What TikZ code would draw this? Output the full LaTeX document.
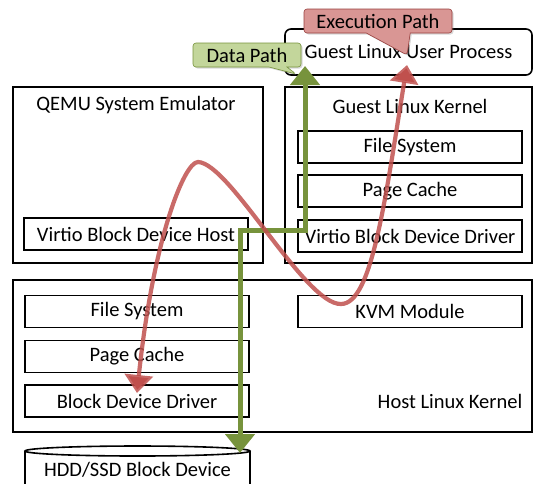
\documentclass[tikz,border=0pt]{standalone}
\usepackage{fontspec}
\setmainfont{Carlito}
\usetikzlibrary{arrows.meta,shapes.callouts,shadows}
\definecolor{verdedatos}{HTML}{77933C}
\definecolor{rojoejec}{HTML}{C0504D}
\definecolor{rojoglobo}{HTML}{D99694}
\definecolor{verdeglobo}{HTML}{C3D69B}

\begin{document}
\begin{tikzpicture}[x=1pt,y=-1pt,line width=1.6pt,
  every node/.style={font=\fontsize{20.5}{24}\selectfont,inner sep=0pt},
  capa/.style={draw,rectangle,minimum width=224pt,minimum height=32pt},
  globo/.style={rectangle callout,rounded corners=3pt,line width=0.6pt,minimum height=24pt,
    drop shadow={opacity=0.3,shadow xshift=1.5pt,shadow yshift=-1.5pt}},
  datos/.style={draw=verdedatos,line width=5pt,line join=miter,{Triangle[width=29pt,length=19pt]}-{Triangle[width=29pt,length=19pt]}},
  ejec/.style={draw=rojoejec,draw opacity=0.85,line width=4.2pt,{Triangle[width=28pt,length=18pt]}-{Triangle[width=28pt,length=18pt]}}]
  \useasboundingbox (0,0) rectangle (534,483);
  % proceso de usuario
  \node[draw,rectangle,rounded corners=6pt,minimum width=247pt,minimum height=46pt] (proc) at (408.5,52) {Guest Linux User Process};
  % emulador qemu
  \draw (13,87) rectangle (263,263);
  \node (qemu) at (136,105) {QEMU System Emulator};
  \node[capa] (vhost) at (136,234) {Virtio Block Device Host};
  % nucleo del invitado
  \draw (285,87) rectangle (532,263);
  \node (gker) at (410,106) {Guest Linux Kernel};
  \node[capa] (gfs) at (410,147) {File System};
  \node[capa] (gpc) at (410,191) {Page Cache};
  \node[capa] (gvirt) at (410,236) {Virtio Block Device Driver};
  % nucleo del anfitrion
  \draw (13,280) rectangle (532,432);
  \node (hker) at (450,401) {Host Linux Kernel};
  \node[capa] (hfs) at (137,311.5) {File System};
  \node[capa] (hpc) at (137,356.5) {Page Cache};
  \node[capa] (hbdd) at (137,401) {Block Device Driver};
  \node[capa] (kvm) at (410,311.5) {KVM Module};
  % disco
  \draw (25,451) -- (25,487) arc[x radius=112.5,y radius=5,start angle=180,end angle=0] -- (250,451);
  \draw (137.5,451) ellipse[x radius=112.5,y radius=5];
  \node (hdd) at (137.5,470) {HDD/SSD Block Device};
  % globos
  \node[globo,fill=rojoglobo,draw=rojoejec!80!black,minimum width=148pt,callout pointer width=44pt,
    callout absolute pointer={(407,55)}] (gejec) at (378,21) {Execution Path};
  \node[globo,fill=verdeglobo,draw=verdedatos,minimum width=108pt,callout pointer width=18pt,
    callout absolute pointer={(296,74)}] (gdatos) at (247,55) {Data Path};
  % caminos
  \coordinate (dsup) at (305,66);
  \coordinate (dinf) at (240,453);
  \coordinate (esup) at (407,65);
  \coordinate (einf) at (137,393);
  \draw[datos] (dsup) -- (305,230) -- (240,230) -- (dinf);
  \draw[ejec] (einf) .. controls (153,240) and (184,162) .. (198,162)
    .. controls (230,163) and (305,305) .. (341,304)
    .. controls (372,304) and (385,200) .. (esup);
\end{tikzpicture}
\end{document}
